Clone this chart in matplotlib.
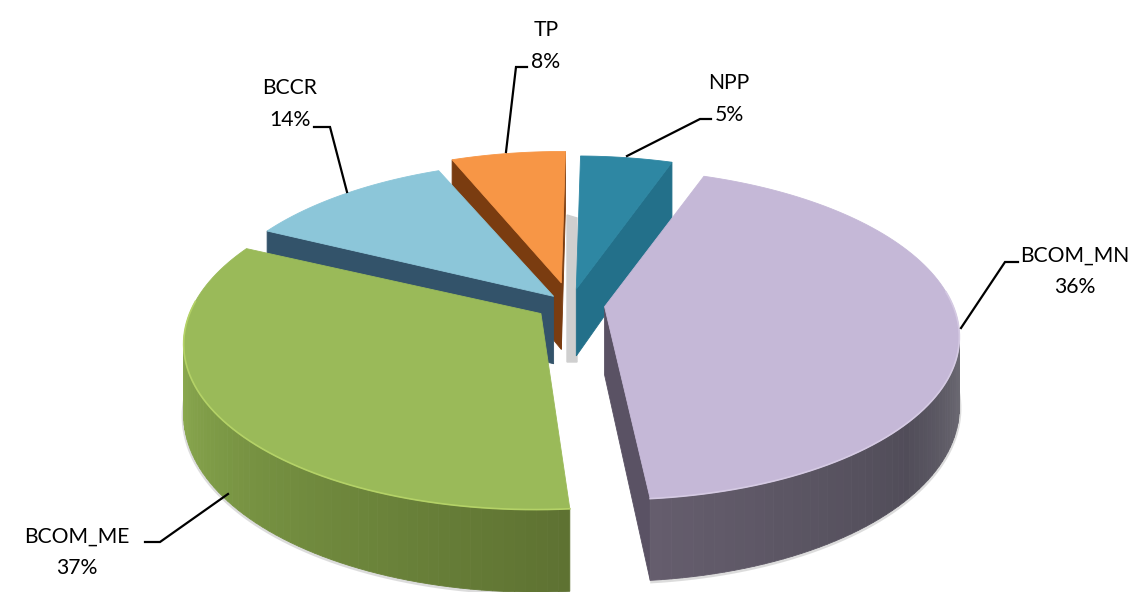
#!/usr/bin/env python

import numpy as np
import matplotlib.pyplot as plt
from matplotlib.colors import to_rgb

categories = ['NPP', 'BCOM_MN', 'BCOM_ME', 'BCCR', 'TP']
# printed labels
pct_labels = ['5%', '36%', '37%', '14%', '8%']
# share of the circle each slice really takes up in the picture
shares = [5.33, 43.08, 33.67, 11.55, 6.37]

W, H = 1136, 592
X0, Y0 = 570, 304.5
RX, RY = 348, 160
PERSP = 1 / 6.
DEPTH = 68
EXPLODE = [0.1, 0.1, 0.1, 0.07, 0.14]
ROT = 1.0

top_colors = ['#2e87a3', '#c5b8d7', '#9aba59', '#8cc6d9', '#f79646']
wall_colors = ['#23708a', '#5a5264', '#566b2f', '#33536a', '#7a3c10']
rim_stops = [
    ([0, 360], ['#23708a', '#23708a']),
    ([17, 100, 130, 176], ['#7d7a84', '#6f6d76', '#514d59', '#665e6e']),
    ([175, 220, 260, 297], ['#5e7232', '#748f40', '#8cab50', '#8fae52']),
    ([0, 360], ['#33536a', '#33536a']),
    ([0, 360], ['#7a3c10', '#7a3c10']),
]
draw_order = [4, 0, 3, 2, 1]

leaders = {
    'NPP': [(627, 156), (700, 119), (711, 119)],
    'BCOM_MN': [(961, 328), (1005, 262), (1018, 262)],
    'BCOM_ME': [(228, 494), (160, 542), (145, 542)],
    'BCCR': [(347, 192), (330, 127), (314, 127)],
    'TP': [(506, 152), (516, 67), (527, 67)],
}
label_pos = {
    'NPP': (729, 99),
    'BCOM_MN': (1075, 271),
    'BCOM_ME': (77, 552),
    'BCCR': (290, 104),
    'TP': (546, 46),
}


def project(u, v, drop=False):
    # disk coords to pixels, far side of the disk is smaller
    s = 1 / (1 + PERSP * v)
    x = X0 + RX * u * s
    y = Y0 - RY * v * s
    if drop:
        y = y + DEPTH * s
    return x, y


def signed_area(xs, ys):
    return 0.5 * np.sum(xs * np.roll(ys, -1) - np.roll(xs, -1) * ys)


def draw_face(ax, xs, ys, color, zorder):
    ax.fill(xs, ys, facecolor=color, edgecolor=color, lw=0.6, zorder=zorder)


def draw_slice(ax, start, end, i, zorder):
    mid = np.radians((start + end) / 2.)
    au, av = EXPLODE[i] * np.sin(mid), EXPLODE[i] * np.cos(mid)
    thetas = np.radians(np.arange(start, end + 0.01, 1.5))
    us = au + np.sin(thetas)
    vs = av + np.cos(thetas)

    # shadow under the front of the rim
    bx, by = project(us, vs, drop=True)
    front = np.cos(thetas) < 0.1
    if i in (1, 2):
        ax.plot(bx[front], by[front] + 1, color='#777777', lw=3, alpha=0.25,
                zorder=zorder - 0.5, solid_capstyle='butt')

    # radial walls, only the ones facing us
    for ui, vi in ((us[0], vs[0]), (us[-1], vs[-1])):
        x1, y1 = project(au, av)
        x2, y2 = project(ui, vi)
        x3, y3 = project(ui, vi, drop=True)
        x4, y4 = project(au, av, drop=True)
        xs = np.array([x1, x2, x3, x4])
        ys = np.array([y1, y2, y3, y4])
        sign = 1 if ui == us[-1] else -1
        if sign * signed_area(xs, ys) > 0:
            draw_face(ax, xs, ys, wall_colors[i], zorder)

    # outer rim in thin strips for the gradient
    stops, cols = rim_stops[i]
    rgb = np.array([to_rgb(c) for c in cols])
    tx, ty = project(us, vs)
    for k in range(len(thetas) - 1):
        xs = np.array([tx[k], tx[k + 1], bx[k + 1], bx[k]])
        ys = np.array([ty[k], ty[k + 1], by[k + 1], by[k]])
        if signed_area(xs, ys) < 0:
            deg = np.degrees(thetas[k])
            c = [np.interp(deg, stops, rgb[:, j]) for j in range(3)]
            draw_face(ax, xs, ys, c, zorder + 0.1)

    # top of the slice
    ax0, ay0 = project(au, av)
    draw_face(ax, np.r_[ax0, tx], np.r_[ay0, ty], top_colors[i], zorder + 0.2)
    if i in (1, 2):
        hi = '#b4d267' if i == 2 else '#d5cae3'
        ax.plot(tx[front], ty[front], color=hi, lw=1.2, zorder=zorder + 0.3)


def main():
    fig = plt.figure(figsize=(W / 100., H / 100.), dpi=100)
    ax = fig.add_axes([0, 0, 1, 1])
    ax.set_xlim(0, W)
    ax.set_ylim(H, 0)
    ax.axis('off')

    # pale sliver seen in the gap between TP and NPP
    ax.fill([567, 577, 577, 567], [215, 218, 362, 362], color='#cfcfcf', zorder=0.5)

    edges = ROT + np.r_[0, np.cumsum(shares)] * 3.6
    for z, i in enumerate(draw_order):
        draw_slice(ax, edges[i], edges[i + 1], i, 1 + z)

    for name, pct in zip(categories, pct_labels):
        xs, ys = zip(*leaders[name])
        ax.plot(xs, ys, color='black', lw=1.6, zorder=10, solid_joinstyle='miter')
        x, y = label_pos[name]
        ax.text(x, y, name + '\n' + pct, ha='center', va='center', fontsize=15.2,
                family='Lato', color='#000000', linespacing=1.7, zorder=11)

    plt.savefig('out.png', dpi=100)
    plt.close()


if __name__ == "__main__":
    main()
